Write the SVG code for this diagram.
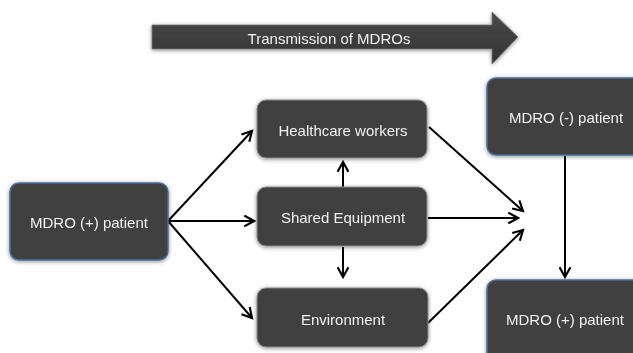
<svg xmlns="http://www.w3.org/2000/svg" width="633" height="353" viewBox="0 0 633 353">
  <defs>
    <style>
      .box { fill: #404040; rx: 9; ry: 9; }
      .blue { stroke: #4a6d96; stroke-width: 1.5; }
      .grey { stroke: #8a8a8a; stroke-width: 1; }
      .lbl { font-family: "Liberation Sans", Arial, sans-serif; font-size: 15px; fill: #f0f0f0; text-anchor: middle; dominant-baseline: central; }
      .edge { stroke: #000; stroke-width: 2; fill: none; marker-end: url(#head); }
    </style>
    <marker id="head" viewBox="0 0 12 12" refX="10" refY="6" markerWidth="6.5" markerHeight="6.5" markerUnits="strokeWidth" orient="auto">
      <path d="M1,1 L10,6 L1,11" fill="none" stroke="#000" stroke-width="2"/>
    </marker>
    <filter id="shadow" x="-20%" y="-20%" width="140%" height="140%">
      <feGaussianBlur in="SourceAlpha" stdDeviation="2"/>
      <feOffset dx="0" dy="1" result="b"/>
      <feComponentTransfer><feFuncA type="linear" slope="0.45"/></feComponentTransfer>
      <feMerge><feMergeNode/><feMergeNode in="SourceGraphic"/></feMerge>
    </filter>
    <linearGradient id="bar" x1="0" y1="0" x2="0" y2="1">
      <stop offset="0" stop-color="#4a4a4a"/>
      <stop offset="1" stop-color="#333"/>
    </linearGradient>
  </defs>

  <rect width="633" height="353" fill="#fff"/>

  <!-- big direction arrow -->
  <g id="transmission" filter="url(#shadow)">
    <path d="M152,25 L492,25 L492,12 L518,37 L492,64 L492,49 L152,49 Z" fill="url(#bar)" stroke="#777" stroke-width="0.8"/>
    <text class="lbl" x="329" y="38">Transmission of MDROs</text>
  </g>

  <!-- connectors -->
  <g id="connectors">
    <line class="edge" x1="168" y1="221" x2="252" y2="131"/>
    <line class="edge" x1="168" y1="221" x2="254" y2="221"/>
    <line class="edge" x1="168" y1="221" x2="252" y2="318"/>
    <line class="edge" x1="343" y1="187" x2="343" y2="162"/>
    <line class="edge" x1="343" y1="247" x2="343" y2="277"/>
    <line class="edge" x1="429" y1="127" x2="523" y2="211"/>
    <line class="edge" x1="428" y1="218" x2="518" y2="218"/>
    <line class="edge" x1="428" y1="323" x2="523" y2="230"/>
    <line class="edge" x1="565" y1="156" x2="565" y2="277"/>
  </g>

  <g id="src-patient" filter="url(#shadow)">
    <rect class="box blue" x="10" y="183" width="158" height="77"/>
    <text class="lbl" x="89" y="222">MDRO (+) patient</text>
  </g>

  <g id="healthcare-workers" filter="url(#shadow)">
    <rect class="box grey" x="257" y="100" width="170" height="58"/>
    <text class="lbl" x="343" y="130">Healthcare workers</text>
  </g>

  <g id="shared-equipment" filter="url(#shadow)">
    <rect class="box grey" x="257" y="187" width="170" height="59"/>
    <text class="lbl" x="343" y="217">Shared Equipment</text>
  </g>

  <g id="environment" filter="url(#shadow)">
    <rect class="box grey" x="257" y="288" width="171" height="59"/>
    <text class="lbl" x="343" y="319">Environment</text>
  </g>

  <g id="neg-patient" filter="url(#shadow)">
    <rect class="box blue" x="487" y="78" width="160" height="77"/>
    <text class="lbl" x="566" y="117">MDRO (-) patient</text>
  </g>

  <g id="pos-patient" filter="url(#shadow)">
    <rect class="box blue" x="487" y="280" width="160" height="85"/>
    <text class="lbl" x="565" y="319">MDRO (+) patient</text>
  </g>
</svg>
